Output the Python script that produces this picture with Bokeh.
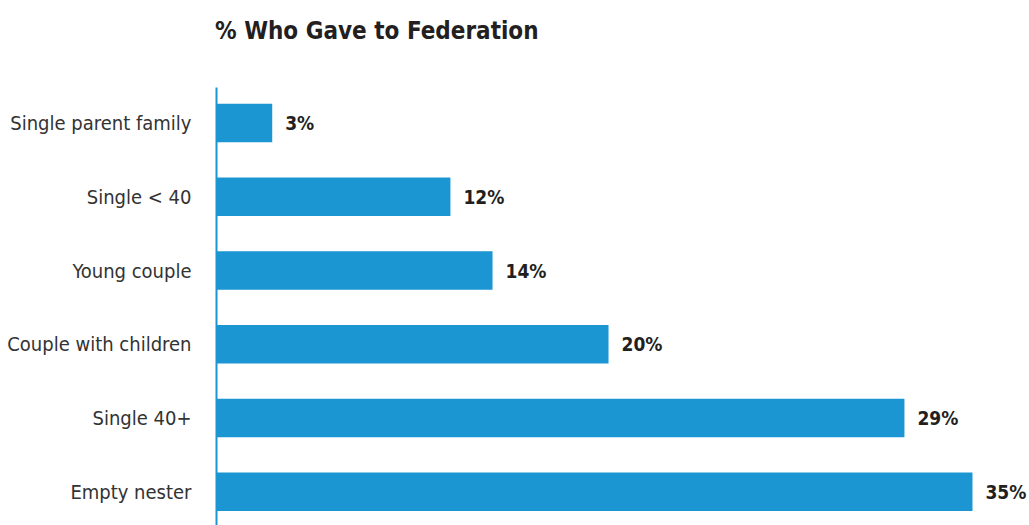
from bokeh.plotting import figure
from bokeh.models import Range1d, FixedTicker, ColumnDataSource, Div
from bokeh.layouts import column
from bokeh.core.properties import value
from bokeh.embed import file_html
from bokeh.resources import INLINE

# Data (top to bottom)
categories = ["Single parent family", "Single < 40", "Young couple",
              "Couple with children", "Single 40+", "Empty nester"]
pct_labels = ["3%", "12%", "14%", "20%", "29%", "35%"]
# bar lengths as drawn in the picture (on the same % scale, 35 = longest)
bar_values = [2.58, 10.83, 12.78, 18.15, 31.85, 35.0]
title_text = "% Who Gave to Federation"

BLUE = "#1c95d3"
FONT = "'DejaVu Sans Condensed', 'Liberation Sans Narrow', sans-serif"

idx = list(range(len(categories)))
src = ColumnDataSource(dict(y=idx, x=bar_values, label=pct_labels))

title = Div(text=title_text, width=1029, height=87, margin=0,
            styles={"font-family": FONT, "font-size": "24px",
                    "font-weight": "bold", "color": "#231f20",
                    "line-height": "28px", "padding-top": "17px",
                    "padding-left": "215px", "box-sizing": "border-box"})

p = figure(width=1029, height=438, output_backend="svg", toolbar_location=None,
           x_range=Range1d(0, 37.64), y_range=Range1d(5.457, -0.481),
           min_border_left=216, min_border_right=0, min_border_top=0,
           min_border_bottom=0)

p.hbar(y="y", right="x", left=0, height=0.52, source=src,
       fill_color=BLUE, line_color=None)

p.text(x="x", y="y", text="label", source=src, x_offset=13,
       text_font=value(FONT), text_font_style="bold", text_font_size="19px",
       text_color="#231f20", text_baseline="middle", text_align="left")

p.xaxis.visible = False
p.xgrid.visible = False
p.ygrid.visible = False
p.outline_line_color = None

ya = p.yaxis[0]
ya.ticker = FixedTicker(ticks=idx)
ya.major_label_overrides = {i: c for i, c in zip(idx, categories)}
ya.major_tick_line_color = None
ya.minor_tick_line_color = None
ya.major_tick_out = 0
ya.major_tick_in = 0
ya.axis_line_color = BLUE
ya.axis_line_width = 2
ya.major_label_standoff = 25
ya.major_label_text_font = FONT
ya.major_label_text_font_size = "20px"
ya.major_label_text_color = "#333333"

layout = column(title, p, spacing=0)
open("out.html", "w").write(file_html(layout, INLINE))
